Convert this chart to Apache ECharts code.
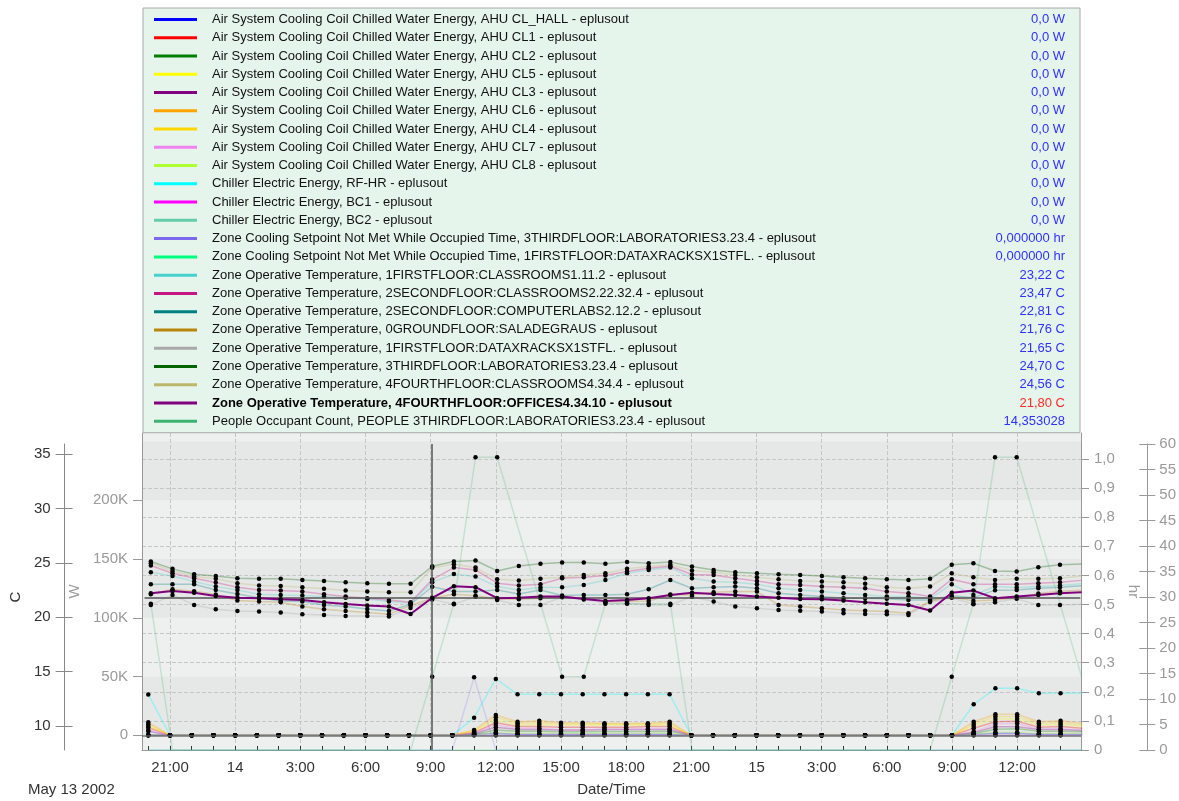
<!DOCTYPE html>
<html>
<head>
<meta charset="utf-8">
<script src="https://cdn.jsdelivr.net/npm/echarts@6/dist/echarts.min.js"></script>
<style>html,body{margin:0;padding:0;background:#fff;}#c{width:1179px;height:801px;}</style>
</head>
<body>
<div id="c"></div>
<script>
// ---------- DATA ----------
// hours counted from May 13 2002 00:00 (20 = May 13 20:00 ... 63 = May 15 15:00)
const hours = [20,21,22,23,24,25,26,27,28,29,30,31,32,33,34,35,36,37,38,39,40,41,42,43,44,45,46,47,48,49,50,51,52,53,54,55,56,57,58,59,60,61,62,63];
const xLabelHours = [21,24,27,30,33,36,39,42,45,48,51,54,57,60];
const cTicks = [10,15,20,25,30,35];
const wTicks = [0,50000,100000,150000,200000];
const wBandTicks = [0,50000,100000,150000,200000,250000];
const hrTicks = [0,0.1,0.2,0.3,0.4,0.5,0.6,0.7,0.8,0.9,1.0];
const cursorHour = 33;
const cursorTemp = 21.80;

const names = [
 'Air System Cooling Coil Chilled Water Energy, AHU CL_HALL - eplusout',
 'Air System Cooling Coil Chilled Water Energy, AHU CL1 - eplusout',
 'Air System Cooling Coil Chilled Water Energy, AHU CL2 - eplusout',
 'Air System Cooling Coil Chilled Water Energy, AHU CL5 - eplusout',
 'Air System Cooling Coil Chilled Water Energy, AHU CL3 - eplusout',
 'Air System Cooling Coil Chilled Water Energy, AHU CL6 - eplusout',
 'Air System Cooling Coil Chilled Water Energy, AHU CL4 - eplusout',
 'Air System Cooling Coil Chilled Water Energy, AHU CL7 - eplusout',
 'Air System Cooling Coil Chilled Water Energy, AHU CL8 - eplusout',
 'Chiller Electric Energy, RF-HR - eplusout',
 'Chiller Electric Energy, BC1 - eplusout',
 'Chiller Electric Energy, BC2 - eplusout',
 'Zone Cooling Setpoint Not Met While Occupied Time, 3THIRDFLOOR:LABORATORIES3.23.4 - eplusout',
 'Zone Cooling Setpoint Not Met While Occupied Time, 1FIRSTFLOOR:DATAXRACKSX1STFL. - eplusout',
 'Zone Operative Temperature, 1FIRSTFLOOR:CLASSROOMS1.11.2 - eplusout',
 'Zone Operative Temperature, 2SECONDFLOOR:CLASSROOMS2.22.32.4 - eplusout',
 'Zone Operative Temperature, 2SECONDFLOOR:COMPUTERLABS2.12.2 - eplusout',
 'Zone Operative Temperature, 0GROUNDFLOOR:SALADEGRAUS - eplusout',
 'Zone Operative Temperature, 1FIRSTFLOOR:DATAXRACKSX1STFL. - eplusout',
 'Zone Operative Temperature, 3THIRDFLOOR:LABORATORIES3.23.4 - eplusout',
 'Zone Operative Temperature, 4FOURTHFLOOR:CLASSROOMS4.34.4 - eplusout',
 'Zone Operative Temperature, 4FOURTHFLOOR:OFFICES4.34.10 - eplusout',
 'People Occupant Count, PEOPLE 3THIRDFLOOR:LABORATORIES3.23.4 - eplusout'
];
const legendValues = ['0,0 W','0,0 W','0,0 W','0,0 W','0,0 W','0,0 W','0,0 W','0,0 W','0,0 W','0,0 W','0,0 W','0,0 W',
 '0,000000 hr','0,000000 hr','23,22 C','23,47 C','22,81 C','21,76 C','21,65 C','24,70 C','24,56 C','21,80 C','14,353028'];
const colors = ['#0000ff','#ff0000','#008000','#ffff00','#800080','#ffa500','#ffd700','#ee82ee','#adff2f',
 '#00ffff','#ff00ff','#66cdaa','#7b68ee','#00ff7f','#48d1cc','#c71585','#008080','#b8860b','#a9a9a9',
 '#006400','#bdb76b','#800080','#3cb371'];
const selectedIndex = 21;

// W series
const wClHall = [0, 0,0,0,0,0,0,0,0,0,0,0,0,0,0, 800,1700,800,800,800,800,800,800,800,800, 0,0,0,0,0,0,0,0,0,0,0,0,0, 800,1700,1700,800,800,800];
const wCl1 = [6600, 0,0,0,0,0,0,0,0,0,0,0,0,0,0, 2500,10700,7400,7400,6800,6800,6800,6800,7400,7400, 0,0,0,0,0,0,0,0,0,0,0,0,0, 6000,11600,12000,6800,7400,6000];
const wCl2 = [0, 0,0,0,0,0,0,0,0,0,0,0,0,0,0, 1000,4500,3500,3500,3000,3000,3200,3200,3200,3500, 0,0,0,0,0,0,0,0,0,0,0,0,0, 1500,5100,5500,3500,3500,3000];
const wCl5 = [8000, 0,0,0,0,0,0,0,0,0,0,0,0,0,0, 3100,13000,8800,9300,8800,8800,8800,8800,8800,8800, 0,0,0,0,0,0,0,0,0,0,0,0,0, 8000,13900,13900,8800,9300,7400];
const wCl3 = [3500, 0,0,0,0,0,0,0,0,0,0,0,0,0,0, 1500,6800,5000,5000,4500,4500,5000,5000,5000,5000, 0,0,0,0,0,0,0,0,0,0,0,0,0, 2500,7300,7300,5000,5000,4000];
const wCl6 = [11100, 0,0,0,0,0,0,0,0,0,0,0,0,0,0, 4500,17300,11600,12400,10700,10700,10200,10200,10200,11600, 0,0,0,0,0,0,0,0,0,0,0,0,0, 11600,17900,17900,11600,12400,10200];
const wCl4 = [9400, 0,0,0,0,0,0,0,0,0,0,0,0,0,0, 3800,15300,10200,10700,9800,9800,9500,9500,9500,10200, 0,0,0,0,0,0,0,0,0,0,0,0,0, 9700,15900,15900,10200,10700,8800];
const wCl7 = [4500, 0,0,0,0,0,0,0,0,0,0,0,0,0,0, 2000,8800,5900,5900,4500,4500,5100,5100,5400,5400, 0,0,0,0,0,0,0,0,0,0,0,0,0, 3100,9600,10000,5100,5400,4500];
const wCl8 = [0, 0,0,0,0,0,0,0,0,0,0,0,0,0,0, 500,2500,1800,1800,1800,1800,1800,1800,1800,1800, 0,0,0,0,0,0,0,0,0,0,0,0,0, 1000,2500,2500,1800,1800,1800];
const wRfhr = [34800, 0,0,0,0,0,0,0,0,0,0,0,0,0,0, 15000,48000,34900,34900,34900,34900,34900,34900,34900,34900, 0,0,0,0,0,0,0,0,0,0,0,0,0, 26400,40000,40000,35800,35800,35800];
const wBc1 = [0,0,0,0,0,0,0,0,0,0,0,0,0,0,0,0,0,0,0,0,0,0,0,0,0,0,0,0,0,0,0,0,0,0,0,0,0,0,0,0,0,0,0,0];
const wBc2 = [0,0,0,0,0,0,0,0,0,0,0,0,0,0,0,0,0,0,0,0,0,0,0,0,0,0,0,0,0,0,0,0,0,0,0,0,0,0,0,0,0,0,0,0];
// hr series
const hrLab = [0,0,0,0,0,0,0,0,0,0,0,0,0,0,0,0.25,0,0,0,0,0,0,0,0,0,0,0,0,0,0,0,0,0,0,0,0,0,0,0,0,0,0,0,0];
const hrData = [0,0,0,0,0,0,0,0,0,0,0,0,0,0,0,0,0,0,0,0,0,0,0,0,0,0,0,0,0,0,0,0,0,0,0,0,0,0,0,0,0,0,0,0];
// temperature series (C)
const t1FC = [24.15,23.81,23.29,22.83,22.52,22.12,22.06,22.00,21.91,21.81,21.69,21.45,21.30,23.22,23.98,23.75,22.83,22.52,22.74,22.77,22.98,23.44,24.06,24.36,24.58,23.60,23.29,23.23,23.05,22.68,22.52,22.37,22.22,22.06,21.91,21.91,21.70,23.05,22.06,22.83,22.74,22.83,22.92,23.10];
const t2FC = [24.76,24.06,23.60,23.20,22.77,22.52,22.46,22.37,22.12,21.91,21.76,21.60,21.39,23.47,24.58,24.36,23.14,22.92,23.05,23.60,23.69,23.84,24.21,24.52,24.70,23.94,23.90,23.60,23.35,23.05,22.98,22.83,22.77,22.68,22.37,22.22,21.91,23.50,23.05,23.05,23.05,23.14,23.23,23.40];
const t2FComp = [23.05,23.05,23.05,22.52,22.15,21.81,21.51,21.45,21.14,20.99,20.77,20.59,21.20,22.81,22.37,22.37,22.52,22.15,22.52,22.00,22.06,22.06,22.12,22.58,23.44,22.68,22.77,22.83,22.68,22.22,22.06,21.91,21.76,21.76,21.70,21.60,21.60,21.98,21.81,22.50,22.52,22.68,22.77,22.90];
const t0G = [22.12,22.59,22.40,22.10,21.54,21.45,21.39,20.99,20.75,20.59,20.44,20.29,21.08,21.76,22.12,21.98,21.70,21.66,21.76,21.90,21.75,21.45,21.45,21.50,22.10,22.06,22.30,22.37,22.37,21.14,20.99,20.83,20.68,20.60,20.53,20.37,21.50,21.90,21.50,21.60,21.81,22.20,22.40,22.50];
const t1FDX = [21.14,22.06,21.14,20.75,20.59,20.53,20.44,20.29,20.22,20.13,20.13,20.07,20.85,21.65,21.20,21.90,21.60,21.14,21.14,21.85,21.65,21.35,21.30,21.14,21.14,21.90,21.45,20.99,20.83,20.68,20.60,20.53,20.37,20.30,20.28,20.22,21.40,21.80,21.20,21.39,21.70,21.14,21.14,21.20];
const t3F = [25.13,24.46,23.97,23.81,23.60,23.54,23.54,23.44,23.35,23.23,23.14,23.08,23.08,24.70,25.13,25.23,24.27,24.73,24.92,25.05,25.05,24.92,25.08,24.98,25.08,24.67,24.36,24.15,24.06,23.97,23.90,23.81,23.69,23.60,23.50,23.44,23.54,24.83,24.98,24.27,24.21,24.61,24.83,24.90];
const t4FC = [24.98,24.27,23.75,23.54,23.14,22.92,22.89,22.77,22.62,22.46,22.37,22.31,22.31,24.56,24.89,24.58,23.50,23.38,23.54,23.69,23.90,24.06,24.46,24.67,24.83,24.30,24.15,23.90,23.69,23.50,23.35,23.29,23.23,23.08,22.77,22.68,22.83,24.06,23.69,23.44,23.54,23.54,23.60,23.80];
const t4FO = [22.22,22.43,22.27,21.97,21.81,21.76,21.66,21.60,21.39,21.23,21.08,20.99,20.31,21.80,22.86,22.77,21.76,21.81,21.91,21.91,21.69,21.51,21.60,21.76,22.06,22.27,22.15,22.06,21.91,21.81,21.69,21.66,21.54,21.39,21.26,21.14,20.62,22.27,22.46,21.76,21.91,22.06,22.22,22.30];
// people
const people = [28.7, 0,0,0,0,0,0,0,0,0,0,0,0, 14.353028, 28.7, 57.4, 57.4, null, null, 14.35, 14.35, 28.7, 28.7, 28.7, 28.7, 0,0,0,0,0,0,0,0,0,0,0,0, 14.35, 28.7, 57.4, 57.4, null, null, 14.35];

const seriesValues = [wClHall,wCl1,wCl2,wCl5,wCl3,wCl6,wCl4,wCl7,wCl8,wRfhr,wBc1,wBc2,hrLab,hrData,
  t1FC,t2FC,t2FComp,t0G,t1FDX,t3F,t4FC,t4FO,people];
// kind: 0=W, 1=hr, 2=C, 3=people
const seriesKind = [0,0,0,0,0,0,0,0,0,0,0,0,1,1,2,2,2,2,2,2,2,2,3];

// ---------- CHART ----------
const FONT = "'Liberation Sans', Arial, sans-serif";
const chart = echarts.init(document.getElementById('c'), null, {renderer: 'canvas'});

function xLabel(v) {
  const h = Math.round(v);
  if (h % 24 === 0) return String(13 + h / 24);
  return (h % 24) + ':00';
}
// marks sitting on the bottom edge of the plot are clipped away (only the hour ticks show there)
const edgeSize = v => (v[1] === 0 ? 0 : 4.5);

const series = names.map((n, i) => {
  const kind = seriesKind[i];
  const sel = i === selectedIndex;
  const s = {
    name: n,
    type: 'line',
    data: hours.map((h, k) => [h, seriesValues[i][k]]),
    xAxisIndex: (kind === 0 || kind === 1) ? 1 : 0,
    yAxisIndex: kind === 0 ? 1 : kind === 1 ? 2 : kind === 2 ? 0 : 3,
    symbol: 'circle',
    symbolSize: (kind === 1 || kind === 3) ? edgeSize : 4.5,
    showSymbol: true,
    showAllSymbol: true,
    connectNulls: true,
    silent: true,
    animation: false,
    z: sel ? 5 : 3,
    itemStyle: {color: '#000'},
    lineStyle: {color: colors[i], width: sel ? 2 : 1.5, opacity: sel ? 1 : (kind === 3 ? 0.22 : kind === 1 ? 0.2 : 0.3)},
    emphasis: {disabled: true}
  };
  if (sel) {
    s.markLine = {
      silent: true, symbol: ['none', 'none'], label: {show: false},
      lineStyle: {color: '#555', width: 1.5, type: 'solid'},
      data: [{xAxis: cursorHour}, {yAxis: cursorTemp}]
    };
  }
  if (i === 0) {
    s.markLine = {
      silent: true, symbol: ['none', 'none'], label: {show: false},
      lineStyle: {color: '#666', width: 1.5, type: 'solid', opacity: 0.9},
      data: [{yAxis: 0}]
    };
  }
  return s;
});
series.sort((a, b) => a.z - b.z);

const option = {
  animation: false,
  textStyle: {fontFamily: FONT},
  graphic: [{
    type: 'text', left: 28, top: 782,
    style: {text: 'May 13 2002', fontSize: 15, fill: '#333', fontFamily: FONT}
  }],
  legend: {
    orient: 'vertical', left: 143, top: 8,
    padding: [5, 15, 5, 11],
    itemWidth: 43, itemHeight: 3, itemGap: 5.26,
    icon: 'rect',
    selectedMode: false,
    backgroundColor: '#e6f5ec',
    borderColor: '#a8a8a8', borderWidth: 1,
    data: names.map((n, i) => ({name: n, icon: 'rect', itemStyle: {color: colors[i], opacity: 1, borderWidth: 0}})),
    formatter: function (name) {
      const i = names.indexOf(name);
      const b = i === selectedIndex;
      return '{' + (b ? 'nb' : 'n') + '|' + name + '}{' + (b ? 'vb' : 'v') + '|' + legendValues[i] + '}';
    },
    textStyle: {
      fontSize: 13, fontFamily: FONT,
      rich: {
        n: {width: 733, padding: [0, 0, 0, 10], fontSize: 13, color: '#111', fontFamily: FONT},
        nb: {width: 733, padding: [0, 0, 0, 10], fontSize: 13, color: '#000', fontWeight: 'bold', fontFamily: FONT},
        v: {width: 120, align: 'right', fontSize: 13, color: '#2f2fff', fontFamily: FONT},
        vb: {width: 120, align: 'right', fontSize: 13, color: '#ff2a2a', fontFamily: FONT}
      }
    }
  },
  grid: [
    {left: 142, right: 98, top: 444, bottom: 51, show: false},
    {left: 142, right: 98, top: 433, bottom: 51, show: true, backgroundColor: '#eeefef', borderWidth: 0}
  ],
  xAxis: [
    {type: 'value', gridIndex: 0, min: 19.711, max: 62.94, show: false},
    {type: 'value', gridIndex: 1, min: 19.711, max: 62.94, position: 'bottom',
     name: 'Date/Time', nameLocation: 'middle', nameGap: 32,
     nameTextStyle: {fontSize: 15, color: '#333', fontFamily: FONT},
     axisLine: {show: true, onZero: false, lineStyle: {color: '#999'}},
     axisTick: {show: true, inside: true, length: 4, customValues: hours, lineStyle: {color: '#333'}},
     axisLabel: {customValues: xLabelHours, formatter: xLabel, fontSize: 15, color: '#333', margin: 10, fontFamily: FONT},
     splitLine: {show: false}},
    {type: 'value', gridIndex: 1, min: 19.711, max: 62.94, position: 'top',
     axisLine: {show: false}, axisTick: {show: false, customValues: xLabelHours},
     axisLabel: {show: false, customValues: xLabelHours},
     splitLine: {show: true, lineStyle: {type: 'dashed', color: '#c6c6c6', width: 1}}}
  ],
  yAxis: [
    {type: 'value', gridIndex: 0, position: 'left', offset: 80, min: 7.79, max: 35.95,
     name: 'C', nameLocation: 'middle', nameGap: 33, nameRotate: 90,
     nameTextStyle: {fontSize: 15, color: '#333', fontFamily: FONT},
     axisLine: {show: true, lineStyle: {color: '#888'}},
     axisTick: {show: true, length: 9, customValues: cTicks, lineStyle: {color: '#888'}},
     axisLabel: {customValues: cTicks, fontSize: 15, color: '#333', margin: 14, fontFamily: FONT},
     splitLine: {show: false}},
    {type: 'value', gridIndex: 1, position: 'left', offset: 0, min: -12510, max: 257300,
     name: 'W', nameLocation: 'middle', nameGap: 49, nameRotate: 90,
     nameTextStyle: {fontSize: 15, color: '#9a9a9a', fontFamily: FONT},
     axisLine: {show: true, lineStyle: {color: '#999'}},
     axisTick: {show: false, customValues: wBandTicks},
     axisLabel: {customValues: wTicks, fontSize: 15, color: '#9a9a9a', margin: 14, fontFamily: FONT,
       formatter: v => v === 0 ? '0' : (v / 1000) + 'K'},
     splitLine: {show: false},
     splitArea: {show: true, areaStyle: {color: ['#e6e7e7', '#eeefef']}}},
    {type: 'value', gridIndex: 1, position: 'right', offset: 0, min: 0, max: 1.0893,
     name: 'hr', nameLocation: 'middle', nameGap: 36, nameRotate: -90,
     nameTextStyle: {fontSize: 15, color: '#9a9a9a', fontFamily: FONT},
     axisLine: {show: true, lineStyle: {color: '#999'}},
     axisTick: {show: true, length: 8, customValues: hrTicks, lineStyle: {color: '#999'}},
     axisLabel: {customValues: hrTicks, fontSize: 15, color: '#9a9a9a', margin: 13, fontFamily: FONT,
       formatter: v => v === 0 ? '0' : v.toFixed(1).replace('.', ',')},
     splitLine: {show: true, lineStyle: {type: 'dashed', color: '#c6c6c6', width: 1}}},
    {type: 'value', gridIndex: 0, position: 'right', offset: 67, min: 0, max: 60, interval: 5,
     axisLine: {show: true, lineStyle: {color: '#999'}},
     axisTick: {show: true, length: 8, lineStyle: {color: '#999'}},
     axisLabel: {fontSize: 15, color: '#9a9a9a', margin: 12, fontFamily: FONT},
     splitLine: {show: false}},
    // tick-only companions (ticks crossing axis lines, W ticks at labels only)
    {type: 'value', gridIndex: 1, position: 'left', offset: 0, min: -12510, max: 257300,
     axisLine: {show: false}, axisLabel: {show: false}, splitLine: {show: false},
     axisTick: {show: true, length: 9, customValues: wTicks, lineStyle: {color: '#999'}}},
    {type: 'value', gridIndex: 0, position: 'left', offset: 80, min: 7.79, max: 35.95,
     axisLine: {show: false}, axisLabel: {show: false}, splitLine: {show: false},
     axisTick: {show: true, inside: true, length: 8, customValues: cTicks, lineStyle: {color: '#888'}}},
    {type: 'value', gridIndex: 0, position: 'right', offset: 67, min: 0, max: 60, interval: 5,
     axisLine: {show: false}, axisLabel: {show: false}, splitLine: {show: false},
     axisTick: {show: true, inside: true, length: 8, lineStyle: {color: '#999'}}}
  ],
  series: series
};
chart.setOption(option);
</script>
</body>
</html>
